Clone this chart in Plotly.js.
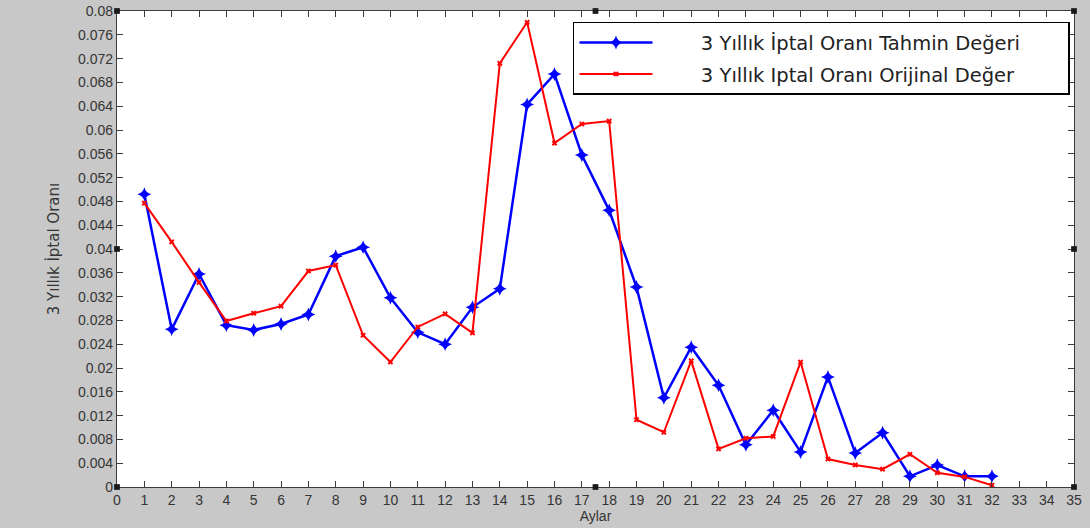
<!DOCTYPE html>
<html>
<head>
<meta charset="utf-8">
<script src="https://cdn.plot.ly/plotly-3.0.1.min.js"></script>
<style>
  html, body { margin: 0; padding: 0; background: #c8c8c8; }
  #chart { width: 1090px; height: 528px; }
</style>
</head>
<body>
<div id="chart"></div>
<script>
// Months 1..32
const months = [1,2,3,4,5,6,7,8,9,10,11,12,13,14,15,16,17,18,19,20,21,22,23,24,25,26,27,28,29,30,31,32];

// 3-year cancellation rate: model estimate
const tahmin = [0.0492,0.0265,0.0358,0.0272,0.0264,0.0274,0.0290,0.0388,0.0403,0.0318,
                0.0260,0.0240,0.0302,0.0333,0.0643,0.0694,0.0558,0.0465,0.0336,0.0150,
                0.0235,0.0171,0.0071,0.0129,0.0059,0.0185,0.0057,0.0091,0.0018,0.0037,
                0.0018,0.0018];

// 3-year cancellation rate: observed value
const orijinal = [0.0477,0.0412,0.0344,0.0279,0.0292,0.0304,0.0363,0.0373,0.0255,0.0210,
                  0.0269,0.0291,0.0259,0.0712,0.0781,0.0578,0.0610,0.0615,0.0113,0.0092,
                  0.0212,0.0064,0.0082,0.0085,0.0210,0.0047,0.0037,0.0030,0.0055,0.0024,
                  0.0017,0.0003];

const seriesNames = ['3 Yıllık İptal Oranı Tahmin Değeri', '3 Yıllık Iptal Oranı Orijinal Değer'];

const xTicks = Array.from({length: 36}, (_, i) => i);
const yTickVals = [0,0.004,0.008,0.012,0.016,0.02,0.024,0.028,0.032,0.036,0.04,
                   0.044,0.048,0.052,0.056,0.06,0.064,0.068,0.072,0.076,0.08];
const yTickText = ['0','0.004','0.008','0.012','0.016','0.02','0.024','0.028','0.032','0.036','0.04',
                   '0.044','0.048','0.052','0.056','0.06','0.064','0.068','0.072','0.076','0.08'];

// legend labels are padded with non-breaking spaces to widen the gap after the line sample
const pad = '\u00a0'.repeat(7);
const tail = '\u00a0'.repeat(7);

const traces = [
  {
    x: months, y: tahmin, name: pad + seriesNames[0] + tail, legendgroup: 'a',
    type: 'scatter', mode: 'lines+markers',
    line: {color: '#0000ff', width: 2.5},
    marker: {symbol: 'star-diamond', size: 10, color: '#0000ff'}
  },
  {
    x: months, y: orijinal, name: pad + seriesNames[1], legendgroup: 'b',
    type: 'scatter', mode: 'lines+markers',
    line: {color: '#ff0000', width: 2},
    marker: {symbol: 'x', size: 5, color: '#ff0000'}
  }
];

// small black edit handles around the axes box
const hs = 0.006, vs = 0.012;
const handlePts = [[0,1],[0.5,1],[1,1],[0,0.5],[1,0.5],[0,0],[0.5,0],[1,0]];
const shapes = handlePts.map(p => ({
  type: 'rect', xref: 'paper', yref: 'paper',
  x0: p[0] - hs/2, x1: p[0] + hs/2, y0: p[1] - vs/2, y1: p[1] + vs/2,
  fillcolor: '#1a1a1a', line: {width: 0}
}));

const axisCommon = {
  showgrid: false, zeroline: false, showline: true, mirror: 'ticks',
  linecolor: '#3c3c3c', linewidth: 1.2, ticks: 'inside', ticklen: 6,
  tickcolor: '#3c3c3c', tickwidth: 1,
  tickfont: {family: 'Liberation Sans, Arial, sans-serif', size: 14, color: '#353535'}
};

const layout = {
  width: 1090, height: 528,
  paper_bgcolor: '#c8c8c8', plot_bgcolor: '#ffffff',
  margin: {l: 117, r: 16, t: 11, b: 41},
  showlegend: true,
  xaxis: Object.assign({}, axisCommon, {
    range: [0, 35], tickmode: 'array', tickvals: xTicks,
    title: {text: 'Aylar', standoff: 4,
            font: {family: 'Liberation Sans, Arial, sans-serif', size: 14, color: '#353535'}}
  }),
  yaxis: Object.assign({}, axisCommon, {
    range: [0, 0.08], tickmode: 'array', tickvals: yTickVals, ticktext: yTickText,
    title: {text: '3 Yıllık İptal Oranı', standoff: 14,
            font: {family: 'DejaVu Sans, sans-serif', size: 15, color: '#353535'}}
  }),
  legend: {
    x: 0.9958, y: 0.977, xanchor: 'right', yanchor: 'top',
    bgcolor: '#ffffff', bordercolor: '#000000', borderwidth: 1.5,
    itemwidth: 73, tracegroupgap: 3,
    font: {family: 'DejaVu Sans, sans-serif', size: 19.5, color: '#222222'}
  },
  shapes: shapes
};

Plotly.newPlot('chart', traces, layout, {displayModeBar: false, staticPlot: true});
</script>
</body>
</html>
